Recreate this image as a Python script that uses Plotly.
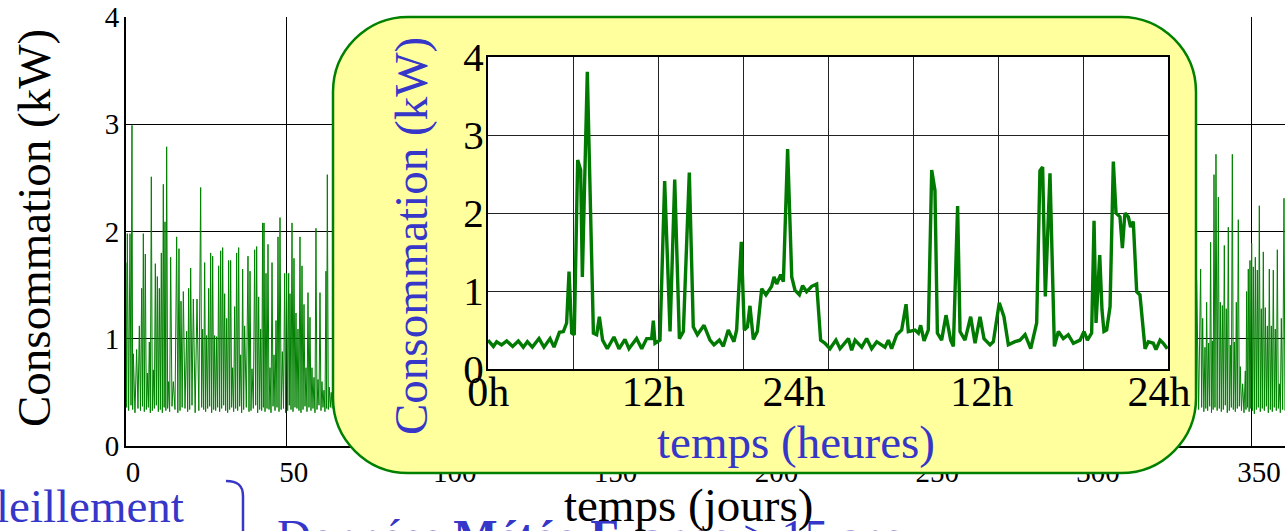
import plotly.graph_objects as go

W, H = 1285, 531

# ---------------- data ----------------
# Main yearly series: daily-ish peaks (day, kW) and the low value reached after each peak
left_peak_days = [0.00, 0.41, 1.24, 1.86, 2.28, 3.30, 4.15, 4.87, 5.39, 6.00,
                  6.63, 7.25, 7.87, 8.50, 9.12, 9.74, 10.36, 10.98, 11.60, 12.12,
                  12.64, 13.26, 13.88, 14.71, 15.75, 16.47, 17.10, 17.82, 18.86, 19.48,
                  20.10, 20.93, 22.07, 23.21, 23.83, 24.45, 25.07, 25.70, 26.32, 26.94,
                  27.56, 28.18, 28.80, 29.43, 30.05, 30.67, 31.29, 31.91, 32.53, 33.15,
                  33.78, 34.40, 35.02, 35.64, 36.26, 36.88, 37.92, 38.55, 39.17, 40.00,
                  40.62, 41.24, 41.86, 42.48, 42.90, 43.52, 44.14, 44.76, 45.39, 46.01,
                  46.63, 47.25, 47.87, 48.60, 49.32, 49.94, 50.57, 50.98, 51.60, 52.22,
                  52.84, 53.46, 54.08, 54.71, 55.33, 55.95, 56.57, 57.19, 57.81, 58.43,
                  59.05, 59.68, 60.30, 60.92, 61.54, 62.16, 62.58, 63.20, 63.80]
left_peak_vals = [1.71, 1.98, 1.98, 2.99, 0.86, 0.90, 1.12, 1.47, 1.98, 1.79,
                  0.68, 0.97, 2.51, 0.71, 1.70, 1.58, 1.47, 1.80, 2.44, 2.09,
                  2.79, 0.60, 1.76, 0.60, 1.95, 1.84, 1.35, 1.44, 1.07, 1.47,
                  1.66, 1.37, 1.37, 2.41, 1.09, 1.71, 1.03, 1.47, 1.80, 1.77,
                  1.03, 1.02, 1.68, 1.82, 1.85, 1.42, 1.19, 1.73, 1.73, 0.73,
                  1.30, 1.80, 1.85, 0.85, 1.65, 1.12, 1.77, 1.63, 0.72, 1.83,
                  1.86, 1.39, 1.09, 2.08, 2.08, 1.61, 1.88, 0.73, 1.71, 0.85,
                  1.17, 1.95, 2.13, 0.88, 1.61, 1.61, 1.61, 1.42, 2.08, 1.75,
                  1.24, 1.09, 1.95, 1.68, 1.32, 0.73, 1.43, 1.20, 0.73, 0.64,
                  2.03, 0.62, 1.43, 0.60, 0.52, 1.63, 2.53, 0.55, 0.50]
left_base_vals = [0.36, 0.33, 0.38, 0.34, 0.31, 0.35, 0.33, 0.37, 0.32, 0.34,
                  0.36, 0.31, 0.33, 0.35, 0.38, 0.32, 0.34, 0.31, 0.36, 0.33,
                  0.35, 0.32, 0.37, 0.34, 0.31, 0.33, 0.36, 0.35, 0.32, 0.34,
                  0.38, 0.31, 0.33, 0.36, 0.34, 0.32, 0.35, 0.37, 0.31, 0.34,
                  0.33, 0.36, 0.32, 0.35, 0.38, 0.33, 0.31, 0.34, 0.36, 0.32,
                  0.35, 0.33, 0.37, 0.31, 0.34, 0.36, 0.32, 0.33, 0.35, 0.38,
                  0.31, 0.34, 0.33, 0.36, 0.32, 0.35, 0.34, 0.31, 0.37, 0.33,
                  0.36, 0.32, 0.34, 0.35, 0.31, 0.33, 0.38, 0.34, 0.32, 0.36,
                  0.35, 0.33, 0.31, 0.34, 0.37, 0.32, 0.36, 0.33, 0.35, 0.31,
                  0.34, 0.38, 0.33, 0.36, 0.32, 0.35, 0.34, 0.36, 0.35]

right_peak_days = [332.81, 334.05, 334.68, 335.40, 335.92, 336.54, 337.16, 337.68, 338.20, 338.82,
                   339.55, 340.17, 340.79, 341.41, 342.03, 342.65, 343.28, 343.90, 344.52, 345.14,
                   345.76, 346.38, 347.11, 347.94, 348.35, 348.87, 349.39, 349.91, 350.43, 351.05,
                   351.67, 352.29, 352.91, 353.53, 354.16, 354.78, 355.40, 356.02, 356.64, 357.26,
                   357.89, 358.51, 359.13, 359.96]
right_peak_vals = [1.55, 1.65, 1.19, 0.92, 1.34, 0.96, 1.90, 0.98, 2.53, 2.72,
                   2.32, 1.34, 1.31, 1.87, 1.28, 2.04, 0.94, 2.72, 0.97, 1.34,
                   2.11, 0.74, 0.58, 0.70, 1.44, 1.65, 1.73, 1.89, 1.67, 1.76,
                   1.64, 2.24, 1.28, 1.81, 1.29, 1.12, 1.65, 1.12, 1.64, 1.09,
                   1.83, 0.58, 1.19, 2.31]
right_base_vals = [0.34, 0.36, 0.32, 0.35, 0.33, 0.37, 0.31, 0.34, 0.36, 0.33,
                   0.35, 0.32, 0.34, 0.38, 0.31, 0.33, 0.36, 0.34, 0.32, 0.35,
                   0.37, 0.33, 0.31, 0.34, 0.36, 0.32, 0.35, 0.33, 0.30, 0.34,
                   0.36, 0.32, 0.35, 0.33, 0.37, 0.31, 0.34, 0.32, 0.36, 0.33,
                   0.35, 0.31, 0.34, 0.33]

# Inset: two days of consumption (hours, kW)
inset_hours = [0.00, 0.38, 0.61, 0.96, 1.32, 1.74, 2.14, 2.49, 2.78, 3.13,
               3.60, 3.95, 4.38, 4.66, 5.04, 5.32, 5.55, 5.72, 5.91, 6.09,
               6.33, 6.54, 6.66, 7.01, 7.44, 7.67, 7.86, 8.09, 8.42, 8.89,
               9.25, 9.67, 9.95, 10.49, 10.85, 11.20, 11.55, 11.67, 11.79, 12.14,
               12.47, 12.85, 13.18, 13.51, 13.79, 14.21, 14.49, 14.78, 15.25, 15.67,
               15.95, 16.33, 16.61, 16.96, 17.36, 17.55, 17.88, 18.09, 18.31, 18.49,
               18.73, 19.01, 19.32, 19.62, 20.02, 20.19, 20.38, 20.66, 20.85, 21.15,
               21.44, 21.67, 21.98, 22.21, 22.49, 22.85, 23.20, 23.48, 23.79, 24.14,
               24.56, 24.85, 25.44, 25.67, 25.91, 26.38, 26.73, 27.08, 27.44, 28.02,
               28.26, 28.49, 28.85, 29.20, 29.51, 29.67, 30.14, 30.38, 30.54, 30.78,
               31.08, 31.32, 31.55, 31.72, 32.02, 32.33, 32.66, 32.85, 33.15, 33.32,
               33.67, 34.07, 34.38, 34.73, 35.01, 35.44, 35.67, 36.09, 36.42, 36.73,
               37.20, 37.55, 37.91, 38.31, 38.73, 38.96, 39.15, 39.34, 39.67, 39.98,
               40.26, 40.61, 40.96, 41.32, 41.79, 42.07, 42.31, 42.61, 42.78, 42.92,
               43.18, 43.34, 43.48, 43.67, 43.91, 44.14, 44.33, 44.61, 44.78, 44.96,
               45.20, 45.36, 45.55, 45.79, 46.02, 46.38, 46.61, 46.96, 47.15, 47.44,
               47.67, 47.95]
inset_kw = [0.37, 0.29, 0.35, 0.31, 0.36, 0.29, 0.36, 0.28, 0.35, 0.28,
            0.39, 0.28, 0.39, 0.28, 0.47, 0.48, 0.59, 1.25, 0.46, 0.44,
            2.68, 2.55, 1.18, 3.81, 0.46, 0.44, 0.67, 0.37, 0.26, 0.41,
            0.26, 0.38, 0.26, 0.39, 0.26, 0.39, 0.39, 0.62, 0.33, 0.37,
            2.41, 0.48, 2.43, 0.39, 0.48, 2.52, 0.54, 0.44, 0.56, 0.37,
            0.31, 0.37, 0.29, 0.50, 0.35, 0.50, 1.63, 0.50, 0.54, 0.81,
            0.38, 0.48, 1.03, 0.95, 1.06, 1.18, 1.09, 1.21, 1.12, 2.82,
            1.18, 1.01, 0.95, 1.07, 0.99, 1.06, 1.09, 0.37, 0.33, 0.26,
            0.37, 0.26, 0.39, 0.24, 0.37, 0.28, 0.39, 0.26, 0.35, 0.28,
            0.37, 0.26, 0.44, 0.50, 0.83, 0.48, 0.50, 0.46, 0.56, 0.36,
            0.50, 2.55, 2.29, 0.46, 0.37, 0.69, 0.37, 0.29, 2.09, 0.48,
            0.37, 0.67, 0.33, 0.67, 0.39, 0.31, 0.35, 0.85, 0.67, 0.31,
            0.35, 0.37, 0.44, 0.26, 0.59, 2.54, 2.59, 0.93, 2.51, 0.29,
            0.48, 0.39, 0.44, 0.33, 0.37, 0.48, 0.37, 0.46, 1.90, 0.59,
            1.46, 0.76, 0.48, 0.50, 0.80, 2.66, 2.00, 1.95, 1.55, 2.00,
            1.95, 1.82, 1.89, 0.99, 0.95, 0.26, 0.35, 0.33, 0.25, 0.37,
            0.33, 0.26]

main_xticks = [0, 50, 100, 150, 200, 250, 300, 350]
main_yticks = [0, 1, 2, 3, 4]
inset_tick_pos = [0.02, 11.67, 21.6, 34.85, 47.37]
inset_tick_text = ["0h", "12h", "24h", "12h", "24h"]


def spikes(days, peaks, bases):
    xs, ys = [], []
    n = min(len(days), len(peaks), len(bases))
    for i in range(n):
        xs.append(days[i]); ys.append(peaks[i])
        nxt = days[i + 1] if i + 1 < n else days[i] + 0.6
        xs.append((days[i] + nxt) / 2); ys.append(bases[i])
    return xs, ys


lx, ly = spikes(left_peak_days, left_peak_vals, left_base_vals)
rx, ry = spikes(right_peak_days, right_peak_vals, right_base_vals)
main_x = lx + [None] + rx
main_y = ly + [None] + ry

# ---------------- figure ----------------
serif = "Liberation Serif, Times New Roman, serif"
blue = "#3636C8"
green = "#008000"
PX_PER_DAY = 3.217

fig = go.Figure()
fig.add_trace(go.Scatter(x=main_x, y=main_y, mode="lines",
                         line=dict(color=green, width=1),
                         xaxis="x", yaxis="y", hoverinfo="skip", showlegend=False))
# pixel-space helper subplot (hosts the yellow rounded frame)
fig.add_trace(go.Scatter(x=[0], y=[0], mode="markers", marker=dict(opacity=0),
                         xaxis="x2", yaxis="y2", hoverinfo="skip", showlegend=False))
fig.add_trace(go.Scatter(x=inset_hours, y=inset_kw, mode="lines",
                         line=dict(color="#007A00", width=3.4),
                         xaxis="x3", yaxis="y3", hoverinfo="skip", showlegend=False))

tf_main = dict(family=serif, size=29, color="black")
tf_in = dict(family=serif, size=42, color="black")

fig.update_layout(
    width=W, height=H, margin=dict(l=0, r=0, t=0, b=0, pad=0, autoexpand=False),
    paper_bgcolor="white", plot_bgcolor="rgba(0,0,0,0)", showlegend=False,
    xaxis=dict(domain=[126 / W, 1], range=[0, (W - 126) / PX_PER_DAY], anchor="y",
               automargin=False,
               tickmode="array", tickvals=main_xticks, ticks="",
               showgrid=True, gridcolor="black", gridwidth=1.3,
               showline=True, linecolor="black", linewidth=2, zeroline=False,
               tickfont=tf_main, ticklabelshift=7, ticklabelstandoff=-1),
    yaxis=dict(domain=[1 - 446 / H, 1 - 17 / H], range=[0, 4], anchor="x",
               automargin=False,
               tickmode="array", tickvals=main_yticks, ticks="",
               showgrid=True, gridcolor="black", gridwidth=1.3,
               showline=True, linecolor="black", linewidth=2, zeroline=False,
               tickfont=tf_main, ticklabelstandoff=-1),
    xaxis2=dict(domain=[0, 1], range=[0, W], anchor="y2", visible=False, automargin=False),
    yaxis2=dict(domain=[0, 1], range=[H, 0], anchor="x2", visible=False, automargin=False),
    xaxis3=dict(domain=[488 / W, 1168 / W], range=[0, 48], anchor="y3",
                automargin=False,
                tickmode="array", tickvals=inset_tick_pos, ticktext=inset_tick_text,
                ticks="", showgrid=False,
                minor=dict(tickmode="linear", tick0=0, dtick=6, showgrid=True,
                           gridcolor="#222222", gridwidth=1, ticks=""),
                showline=True, mirror=True, linecolor="black", linewidth=2,
                zeroline=False, tickfont=tf_in, ticklabelstandoff=-15),
    yaxis3=dict(domain=[1 - 369 / H, 1 - 57 / H], range=[0, 4], anchor="x3",
                automargin=False,
                tickmode="linear", tick0=0, dtick=1, ticks="",
                showgrid=True, gridcolor="#222222", gridwidth=1,
                showline=True, mirror=True, linecolor="black", linewidth=2,
                zeroline=False, tickfont=dict(family=serif, size=41, color="black"),
                ticklabelstandoff=-6),
)

# yellow rounded frame (pixel space of x2/y2)
x0, x1, y0, y1, r = 333, 1196, 17, 473, 75
k = 0.5523 * r
frame = (f"M {x0 + r},{y0} L {x1 - r},{y0} "
         f"C {x1 - r + k},{y0} {x1},{y0 + r - k} {x1},{y0 + r} "
         f"L {x1},{y1 - r} C {x1},{y1 - r + k} {x1 - r + k},{y1} {x1 - r},{y1} "
         f"L {x0 + r},{y1} C {x0 + r - k},{y1} {x0},{y1 - r + k} {x0},{y1 - r} "
         f"L {x0},{y0 + r} C {x0},{y0 + r - k} {x0 + r - k},{y0} {x0 + r},{y0} Z")
fig.add_shape(type="path", path=frame, xref="x2", yref="y2", layer="below",
              fillcolor="#FFFF9E", line=dict(color=green, width=2.5))
# white plotting area of the inset
fig.add_shape(type="rect", xref="x3", yref="y3", x0=0, x1=48, y0=0, y1=4,
              layer="below", fillcolor="white", line=dict(width=0))
# brace at the bottom
fig.add_shape(type="path", xref="x2", yref="y2", layer="above",
              path="M 226,481 C 237,481 243,485 243,496 L 243,560",
              line=dict(color=blue, width=2.5))

ann = [
    dict(text="Ensoleillement", x=186, y=506, xanchor="right", yanchor="middle", color=blue, angle=0),
    dict(text="Données <b>Météo France</b> > 15 ans", x=275, y=508, xanchor="left", yanchor="top", color=blue, angle=0),
    dict(text="temps (jours)", x=688, y=505, xanchor="center", yanchor="middle", color="black", angle=0),
    dict(text="Consommation (kW)", x=34, y=228, xanchor="center", yanchor="middle", color="black", angle=-90),
    dict(text="Consommation (kW)", x=411, y=236, xanchor="center", yanchor="middle", color=blue, angle=-90),
    dict(text="temps (heures)", x=796, y=442, xanchor="center", yanchor="middle", color=blue, angle=0),
]
for a in ann:
    fig.add_annotation(text=a["text"], x=a["x"], y=a["y"], xref="x2", yref="y2",
                       xanchor=a["xanchor"], yanchor=a["yanchor"], textangle=a["angle"],
                       showarrow=False, font=dict(family=serif, size=47, color=a["color"]))

fig.write_html("out.html", config={"displayModeBar": False},
               post_script="document.body.style.margin='0';document.body.style.overflow='hidden';")
